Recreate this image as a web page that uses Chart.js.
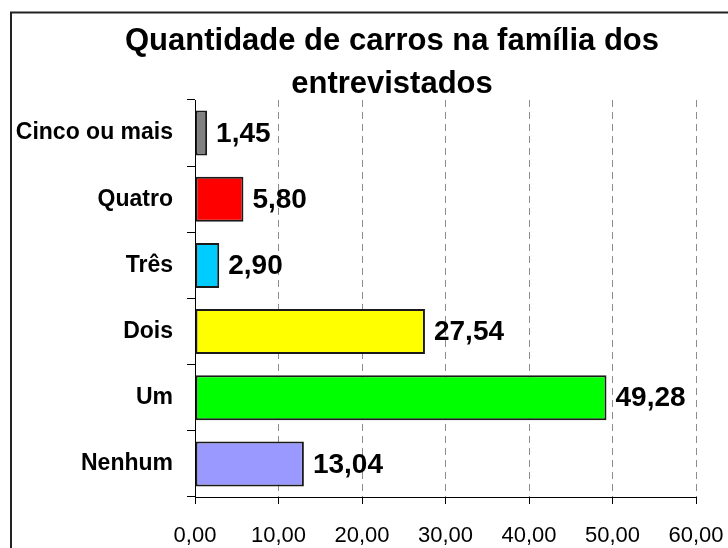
<!DOCTYPE html>
<html>
<head>
<meta charset="utf-8">
<script src="https://cdn.jsdelivr.net/npm/chart.js@4.4.0/dist/chart.umd.min.js"></script>
<style>
    html, body { margin: 0; padding: 0; background: #fff; }
    canvas { display: block; }
</style>
</head>
<body>
<canvas id="chart" width="728" height="548"></canvas>
<script>
const titleLines = ['Quantidade de carros na família dos', 'entrevistados'];
const categories = ['Cinco ou mais', 'Quatro', 'Três', 'Dois', 'Um', 'Nenhum'];
const percentages = [1.45, 5.80, 2.90, 27.54, 49.28, 13.04];
const barColors = ['#808080', '#ff0000', '#00ccff', '#ffff00', '#00ff00', '#9999ff'];
const axisMin = 0;
const axisMax = 60;
const axisStep = 10;

const fontFamily = '"Liberation Sans", Arial, sans-serif';

function formatNumber(v) {
    return Number(v).toFixed(2).replace('.', ',');
}

// frame round the chart object, its right and bottom edges lie outside the picture
const framePlugin = {
    id: 'frame',
    beforeDraw(chart) {
        const ctx = chart.ctx;
        ctx.save();
        ctx.strokeStyle = '#222';
        ctx.lineWidth = 2;
        ctx.strokeRect(11, 12.5, 900, 700);
        ctx.restore();
    }
};

// title is centred on the whole chart object, not on the visible part
const titlePlugin = {
    id: 'wideTitle',
    afterDraw(chart) {
        const ctx = chart.ctx;
        ctx.save();
        ctx.fillStyle = '#000';
        ctx.font = 'bold 31px ' + fontFamily;
        ctx.textAlign = 'center';
        ctx.textBaseline = 'alphabetic';
        titleLines.forEach((line, i) => {
            ctx.fillText(line, 392, 50 + i * 43);
        });
        ctx.restore();
    }
};

const valueLabels = {
    id: 'valueLabels',
    afterDatasetsDraw(chart) {
        const ctx = chart.ctx;
        const meta = chart.getDatasetMeta(0);
        ctx.save();
        ctx.fillStyle = '#000';
        ctx.font = 'bold 28px ' + fontFamily;
        ctx.textAlign = 'left';
        ctx.textBaseline = 'middle';
        meta.data.forEach((bar, i) => {
            ctx.fillText(formatNumber(percentages[i]), bar.x + 9, bar.y + 1);
        });
        ctx.restore();
    }
};

const ctx = document.getElementById('chart').getContext('2d');

new Chart(ctx, {
    type: 'bar',
    data: {
        labels: categories,
        datasets: [{
            data: percentages,
            backgroundColor: barColors,
            borderColor: '#1a1a1a',
            borderWidth: 2,
            borderSkipped: false,
            categoryPercentage: 1,
            barPercentage: 0.68
        }]
    },
    options: {
        indexAxis: 'y',
        responsive: false,
        animation: false,
        layout: {
            padding: { top: 100, right: 32, left: 0, bottom: 0 }
        },
        scales: {
            x: {
                min: axisMin,
                max: axisMax,
                afterFit: (scale) => {
                    scale.height = 51;
                    scale.paddingLeft = 0;
                    scale.paddingRight = 0;
                },
                ticks: {
                    stepSize: axisStep,
                    padding: 19,
                    color: '#000',
                    font: { family: fontFamily, size: 22 },
                    maxRotation: 0,
                    callback: (v) => formatNumber(v)
                },
                grid: {
                    color: (c) => c.index === 0 ? 'rgba(0,0,0,0)' : '#8c8c8c',
                    lineWidth: 1,
                    tickLength: 7,
                    tickColor: '#000',
                    tickBorderDash: []
                },
                border: {
                    display: true,
                    color: '#000',
                    width: 1,
                    dash: [7, 5]
                }
            },
            y: {
                afterFit: (scale) => { scale.width = 195; },
                ticks: {
                    padding: 14,
                    color: '#000',
                    font: { family: fontFamily, size: 23, weight: 'bold' }
                },
                grid: {
                    offset: true,
                    drawOnChartArea: false,
                    tickLength: 8,
                    color: '#000',
                    tickColor: '#000'
                },
                border: {
                    display: true,
                    color: '#000',
                    width: 1
                }
            }
        },
        plugins: {
            legend: { display: false },
            title: { display: false },
            tooltip: { enabled: false }
        }
    },
    plugins: [framePlugin, valueLabels, titlePlugin]
});
</script>
</body>
</html>
